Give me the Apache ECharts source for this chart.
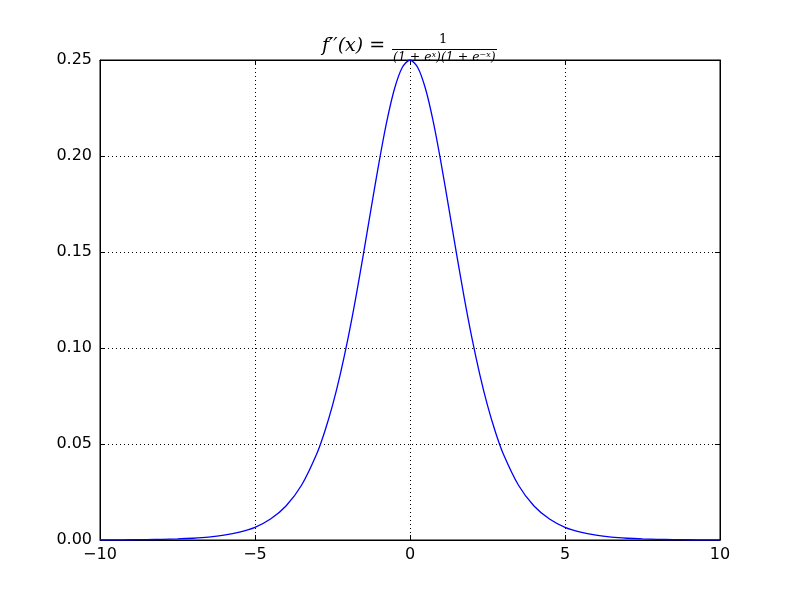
<!DOCTYPE html>
<html>
<head>
<meta charset="utf-8">
<script src="https://cdn.jsdelivr.net/npm/echarts@6/dist/echarts.min.js"></script>
<style>
  html, body { margin: 0; padding: 0; background: #fff; }
  #chart { width: 800px; height: 600px; }
</style>
</head>
<body>
<div id="chart"></div>
<script>
// x positions of the samples
var xs = [-10, -9.5, -9, -8.5, -8, -7.5, -7, -6.5, -6, -5.5, -5, -4.5, -4, -3.5, -3,
  -2.75, -2.5, -2.25, -2, -1.75, -1.5, -1.25, -1, -0.75, -0.5, -0.25, 0,
  0.25, 0.5, 0.75, 1, 1.25, 1.5, 1.75, 2, 2.25, 2.5, 2.75,
  3, 3.5, 4, 4.5, 5, 5.5, 6, 6.5, 7, 7.5, 8, 8.5, 9, 9.5, 10];
// curve heights at those positions
var ys = [0.00005, 0.00007, 0.00012, 0.0002, 0.00034, 0.00055, 0.00091, 0.0015, 0.0025, 0.0041, 0.0066, 0.0109, 0.0177, 0.0285, 0.0452,
  0.0565, 0.0701, 0.0863, 0.105, 0.1261, 0.1492, 0.1731, 0.1966, 0.2179, 0.235, 0.2461, 0.25,
  0.2461, 0.235, 0.2179, 0.1966, 0.1731, 0.1492, 0.1261, 0.105, 0.0863, 0.0701, 0.0565,
  0.0452, 0.0285, 0.0177, 0.0109, 0.0066, 0.0041, 0.0025, 0.0015, 0.00091, 0.00055, 0.00034, 0.0002, 0.00012, 0.00007, 0.00005];
var xTicks = { min: -10, max: 10, step: 5 };
var yTicks = { min: 0, max: 0.25, step: 0.05 };

var chart = echarts.init(document.getElementById('chart'));
var labelFont = { color: '#000', fontSize: 16, fontFamily: 'DejaVu Sans' };
var mathFont = 'DejaVu Serif';

function minus(v) {
  return v < 0 ? '\u2212' + (-v) : String(v);
}

var option = {
  animation: false,
  backgroundColor: '#fff',
  grid: { left: 100, right: 80, top: 60, bottom: 60, show: true, borderColor: '#000', borderWidth: 1 },
  graphic: [
    { type: 'text', left: 322, top: 37, style: { text: 'f\u2032\u2032(x) =', font: 'italic 19px ' + mathFont, fill: '#000' } },
    { type: 'text', left: 439, top: 33, style: { text: '1', font: '13px ' + mathFont, fill: '#000' } },
    { type: 'line', shape: { x1: 392, y1: 49.5, x2: 497, y2: 49.5 }, style: { stroke: '#000', lineWidth: 1 } },
    { type: 'text', left: 393, top: 51, style: { text: '(1 + e\u02E3)(1 + e\u207B\u02E3)', font: 'italic 12.5px ' + mathFont, fill: '#000' } }
  ],
  xAxis: [{
    type: 'value', min: xTicks.min, max: xTicks.max, interval: xTicks.step,
    axisLine: { show: true, onZero: false, lineStyle: { color: '#000' } },
    axisTick: { inside: true, length: 5, lineStyle: { color: '#000' } },
    axisLabel: Object.assign({ margin: 7, formatter: minus }, labelFont),
    splitLine: { show: true, lineStyle: { color: '#000', type: [1, 3], width: 1 } }
  }, {
    type: 'value', position: 'top', min: xTicks.min, max: xTicks.max, interval: xTicks.step,
    axisLine: { show: true, onZero: false, lineStyle: { color: '#000' } },
    axisTick: { inside: true, length: 5, lineStyle: { color: '#000' } },
    axisLabel: { show: false }, splitLine: { show: false }
  }],
  yAxis: [{
    type: 'value', min: yTicks.min, max: yTicks.max, interval: yTicks.step,
    axisLine: { show: true, onZero: false, lineStyle: { color: '#000' } },
    axisTick: { inside: true, length: 5, lineStyle: { color: '#000' } },
    axisLabel: Object.assign({ margin: 8, formatter: function (v) { return v.toFixed(2); } }, labelFont),
    splitLine: { show: true, lineStyle: { color: '#000', type: [1, 3], width: 1 } }
  }, {
    type: 'value', position: 'right', min: yTicks.min, max: yTicks.max, interval: yTicks.step,
    axisLine: { show: true, onZero: false, lineStyle: { color: '#000' } },
    axisTick: { inside: true, length: 5, lineStyle: { color: '#000' } },
    axisLabel: { show: false }, splitLine: { show: false }
  }],
  series: [{
    type: 'line',
    data: xs.map(function (x, i) { return [x, ys[i]]; }),
    showSymbol: false,
    smooth: 0.3,
    clip: false,
    lineStyle: { color: '#0000ff', width: 1.3 },
    z: 5
  }]
};
chart.setOption(option);
</script>
</body>
</html>
